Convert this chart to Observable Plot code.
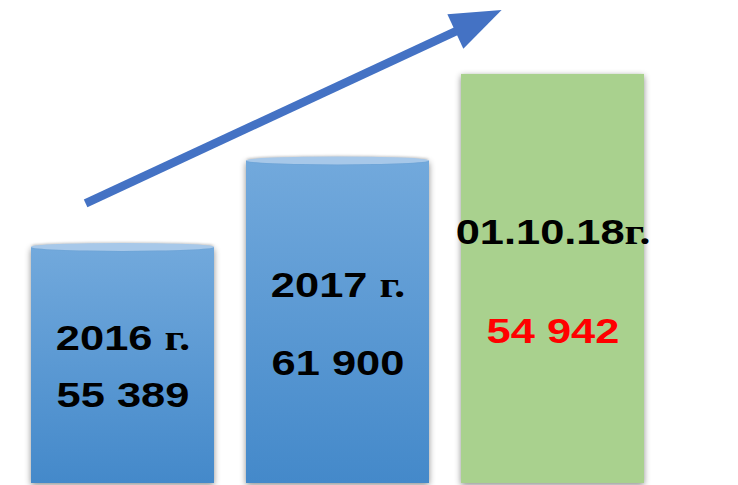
<!DOCTYPE html>
<html>
<head>
<meta charset="utf-8">
<script src="https://cdn.jsdelivr.net/npm/d3@7"></script>
<script src="https://cdn.jsdelivr.net/npm/@observablehq/plot@0.6"></script>
<style>
  html, body { margin: 0; padding: 0; background: #fff; }
  #chart svg { display: block; }
</style>
</head>
<body>
<div id="chart"></div>
<script>
// ---- data ----
const categories = ["2016", "2017", "01.10.18"];
const yearLabels = ["2016 г.", "2017 г.", "01.10.18г."];
const values = [55389, 61900, 54942];
const levels = [1, 2, 3];            // visual step of each bar (staircase)
const highlight = [false, false, true];

// growth arrow (data units: category, level)
const trend = [{x1: "2016", y1: 1.51, x2: "01.10.18", y2: 3.82}];

// ---- styles / layout ----
const BLUE_TOP = "#72a9dc", BLUE_BOTTOM = "#4489ca", GREEN = "#a9d18e";
const CAP = "#a7c8e9", ARROW = "#4472c4";
const yBase = -1.73, yMax = 3.855;
const yearPos = 0.387, valuePos = 0.63;
const STRETCH = 1.24;

const fmt = d3.formatLocale({decimal: ",", thousands: " ", grouping: [3], currency: ["", ""]}).format(",d");

const rows = categories.map((c, i) => ({
  category: c, year: yearLabels[i], value: values[i], label: fmt(values[i]),
  level: levels[i], highlight: highlight[i]
}));

const headSymbol = {
  draw(context) {
    const off = -15.4, len = 51, half = 19;
    context.moveTo(off, 0);
    context.lineTo(off - len, -half);
    context.lineTo(off - len, half);
    context.closePath();
  }
};

const sans = "'Liberation Sans', Arial, sans-serif";
const textY = f => d => yBase + (d.level - yBase) * (1 - f);

const plot = Plot.plot({
  width: 738,
  height: 485,
  marginTop: 0,
  marginBottom: 2,
  marginLeft: 30,
  marginRight: 93,
  x: {domain: categories, paddingInner: 0.148, paddingOuter: 0, axis: null},
  y: {domain: [yBase, yMax], axis: null},
  style: {background: "#fff", fontFamily: sans},
  marks: [
    Plot.barY(rows.filter(d => !d.highlight), {x: "category", y1: yBase, y2: "level", fill: "url(#blueGrad)"}),
    Plot.barY(rows.filter(d => d.highlight), {x: "category", y1: yBase, y2: "level", fill: GREEN}),
    Plot.barY(rows.filter(d => !d.highlight), {
      x: "category", y1: "level", y2: "level", fill: CAP,
      insetTop: -4, insetBottom: -4, rx: 1000, ry: 1000
    }),
    Plot.arrow(trend, {
      x1: "x1", y1: "y1", x2: "x2", y2: "y2",
      stroke: ARROW, strokeWidth: 8.5, headLength: 0, insetEnd: 40,
      strokeLinecap: "butt", dx: -37.4
    }),
    Plot.dot(trend, {
      x: "x2", y: "y2", symbol: headSymbol, r: 10,
      fill: ARROW, stroke: "none", rotate: -24.85, dx: -37.4
    }),
    Plot.text(rows, {
      x: "category", y: textY(yearPos), text: "year",
      fontSize: 35, fontWeight: "bold", fontFamily: sans, fill: "#000"
    }),
    Plot.text(rows.filter(d => !d.highlight), {
      x: "category", y: textY(valuePos), text: "label",
      fontSize: 35, fontWeight: "bold", fontFamily: sans, fill: "#000"
    }),
    Plot.text(rows.filter(d => d.highlight), {
      x: "category", y: textY(valuePos), text: "label",
      fontSize: 35, fontWeight: "bold", fontFamily: sans, fill: "#ff0000"
    })
  ]
});

document.getElementById("chart").append(plot);

// ---- post-processing: gradient, shadows, mixed fonts, stretched glyphs ----
const svg = d3.select(plot);
const defs = svg.insert("defs", ":first-child");
const grad = defs.append("linearGradient")
  .attr("id", "blueGrad").attr("x1", 0).attr("y1", 0).attr("x2", 0).attr("y2", 1);
grad.append("stop").attr("offset", "0%").attr("stop-color", BLUE_TOP);
grad.append("stop").attr("offset", "100%").attr("stop-color", BLUE_BOTTOM);

const barGroups = svg.selectAll('g[aria-label="bar"]').nodes();
barGroups.slice(0, 2).forEach(g => {
  g.style.filter = "drop-shadow(0px 2px 3px rgba(0,0,0,0.45))";
});
if (barGroups[2]) barGroups[2].style.filter = "drop-shadow(0px -1px 1px rgba(0,0,0,0.18))";

svg.selectAll('g[aria-label="text"] text').each(function () {
  const node = this;
  const s = node.textContent;
  const k = s.indexOf("г");
  if (k >= 0) {
    node.textContent = "";
    const a = document.createElementNS("http://www.w3.org/2000/svg", "tspan");
    a.textContent = s.slice(0, k);
    const b = document.createElementNS("http://www.w3.org/2000/svg", "tspan");
    b.textContent = s.slice(k);
    b.setAttribute("font-family", "'Liberation Serif', 'Times New Roman', serif");
    b.setAttribute("font-weight", "bold");
    node.appendChild(a);
    node.appendChild(b);
  }
  const w = node.getComputedTextLength();
  node.setAttribute("textLength", (w * STRETCH).toFixed(1));
  node.setAttribute("lengthAdjust", "spacingAndGlyphs");
});
</script>
</body>
</html>
